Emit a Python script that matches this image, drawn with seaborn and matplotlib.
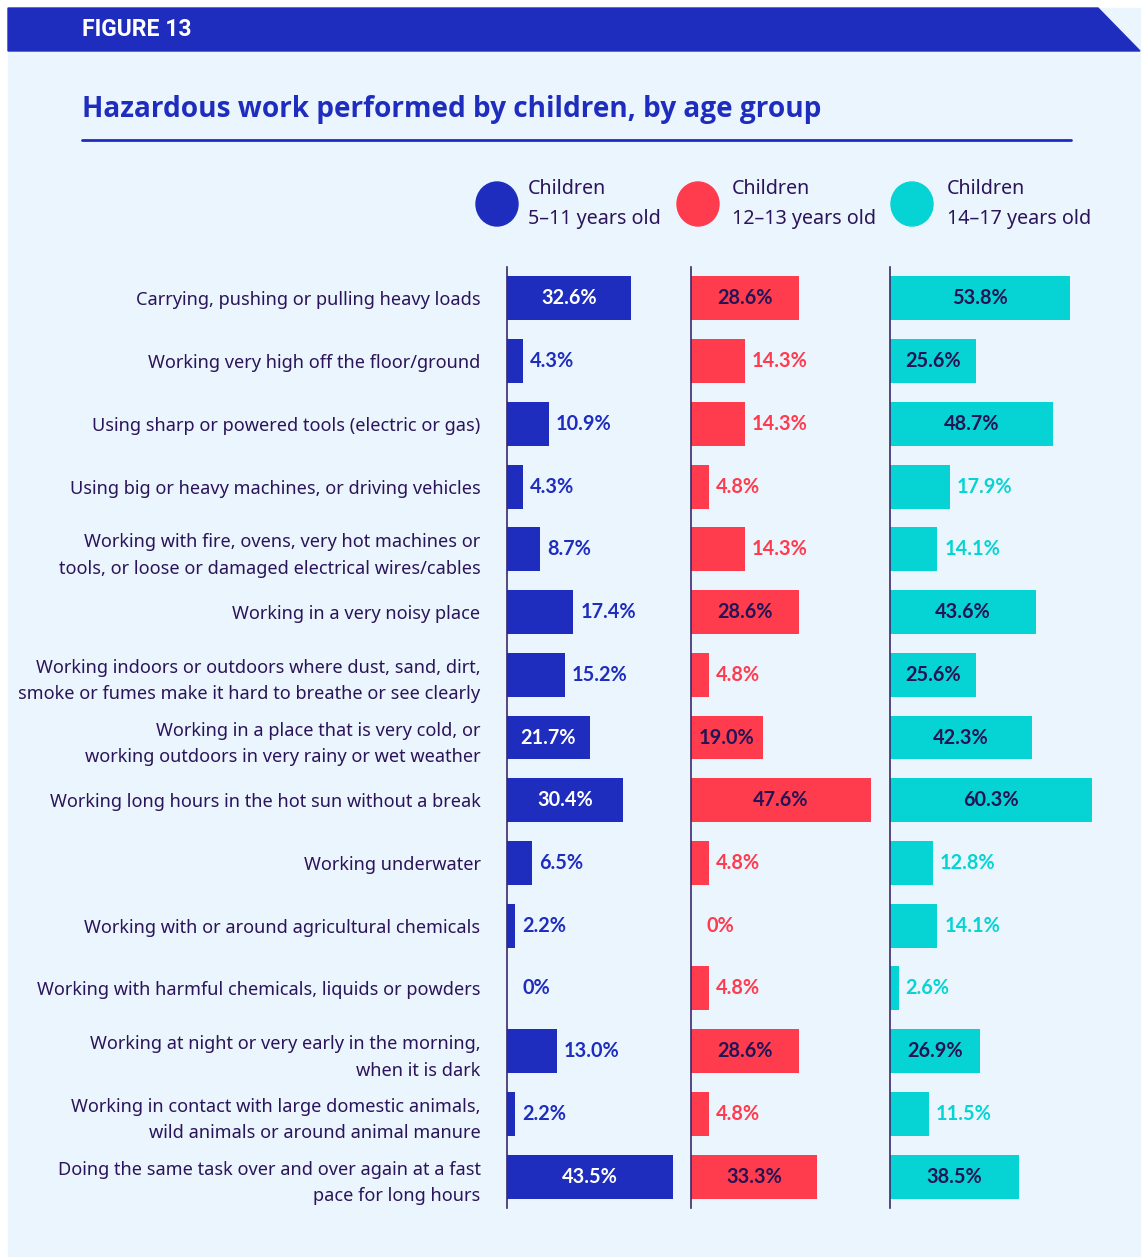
import numpy as np
import pandas as pd
import seaborn as sns
import matplotlib.pyplot as plt
from matplotlib.patches import Polygon, Rectangle, Ellipse
from matplotlib.lines import Line2D

# Daten
categories = [
    "Carrying, pushing or pulling heavy loads",
    "Working very high off the floor/ground",
    "Using sharp or powered tools (electric or gas)",
    "Using big or heavy machines, or driving vehicles",
    "Working with fire, ovens, very hot machines or\ntools, or loose or damaged electrical wires/cables",
    "Working in a very noisy place",
    "Working indoors or outdoors where dust, sand, dirt,\nsmoke or fumes make it hard to breathe or see clearly",
    "Working in a place that is very cold, or\nworking outdoors in very rainy or wet weather",
    "Working long hours in the hot sun without a break",
    "Working underwater",
    "Working with or around agricultural chemicals",
    "Working with harmful chemicals, liquids or powders",
    "Working at night or very early in the morning,\nwhen it is dark",
    "Working in contact with large domestic animals,\nwild animals or around animal manure",
    "Doing the same task over and over again at a fast\npace for long hours",
]
age_5_11 = [32.6, 4.3, 10.9, 4.3, 8.7, 17.4, 15.2, 21.7, 30.4, 6.5, 2.2, 0.0, 13.0, 2.2, 43.5]
age_12_13 = [28.6, 14.3, 14.3, 4.8, 14.3, 28.6, 4.8, 19.0, 47.6, 4.8, 0.0, 4.8, 28.6, 4.8, 33.3]
age_14_17 = [53.8, 25.6, 48.7, 17.9, 14.1, 43.6, 25.6, 42.3, 60.3, 12.8, 14.1, 2.6, 26.9, 11.5, 38.5]
legend_labels = ["Children\n5–11 years old", "Children\n12–13 years old", "Children\n14–17 years old"]

BLUE = "#1F2DBE"
RED = "#FF3B4E"
TEAL = "#06D3D3"
NAVY = "#231456"
TEXT = "#2B1459"
BG = "#EBF5FE"

W, H = 1142, 1258
sns.set_theme(style="white")
plt.rcParams['font.family'] = ['Noto Sans', 'DejaVu Sans']

fig = plt.figure(figsize=(W / 100, H / 100), dpi=100, facecolor="white")


def fx(x):
    return x / W


def fy(y):
    return 1 - y / H


# Hintergrund und Kopfzeile
fig.add_artist(Rectangle((fx(8), fy(1256)), fx(1132), 1248 / H, transform=fig.transFigure,
                         color=BG, zorder=0))
fig.add_artist(Polygon([(fx(8), fy(8)), (fx(1098), fy(8)), (fx(1140), fy(51)), (fx(8), fy(51))],
                       closed=True, transform=fig.transFigure, color=BLUE, zorder=1))
fig.text(fx(82), fy(30), "FIGURE 13", color="white", fontsize=16.5, fontweight="bold",
         family=["Roboto", "DejaVu Sans"], va="center", ha="left")
fig.text(fx(82), fy(109), "Hazardous work performed by children, by age group", color=BLUE,
         fontsize=20.2, fontweight="bold", family=["Open Sans", "DejaVu Sans"], va="center", ha="left")
fig.add_artist(Line2D([fx(82), fx(1071)], [fy(140), fy(140)], transform=fig.transFigure,
                      color=BLUE, lw=2))

# Legende
for cx, tx, col, lab in zip([497, 698, 912], [528, 732, 947], [BLUE, RED, TEAL], legend_labels):
    fig.add_artist(Ellipse((fx(cx), fy(204)), 42 / W, 44 / H, transform=fig.transFigure,
                           color=col, zorder=2))
    fig.text(fx(tx), fy(204), lab, color=TEXT, fontsize=14.2, va="center", ha="left",
             linespacing=1.62)

# Panels: (linker Rand px, Breite px, xlim)
panels = [
    (507, 173, 173 / 3.81, age_5_11, BLUE, "white"),
    (691, 189, 189 / 3.78, age_12_13, RED, NAVY),
    (890, 210, 210 / 3.35, age_14_17, TEAL, NAVY),
]
top, bottom = 267, 1208

for i, (left, width, xmax, vals, col, inside_col) in enumerate(panels):
    ax = fig.add_axes([fx(left), fy(bottom), width / W, (bottom - top) / H])
    ax.set_facecolor("none")
    df = pd.DataFrame({"cat": categories, "val": vals})
    sns.barplot(data=df, x="val", y="cat", ax=ax, color=col, saturation=1, width=0.7,
                orient="h", linewidth=0)
    ax.set_xlim(0, xmax)
    ax.set_ylim(14.5, -0.5)
    ax.set_xlabel("")
    ax.set_ylabel("")
    ax.set_xticks([])
    for s in ["top", "right", "bottom"]:
        ax.spines[s].set_visible(False)
    ax.spines["left"].set_color("#3B2A6B")
    ax.spines["left"].set_linewidth(1.2)
    ax.tick_params(axis="y", length=2, width=1, color=NAVY, direction="out")
    if i == 0:
        ax.tick_params(axis="y", pad=17, labelsize=13.1, labelcolor=TEXT)
        for t in ax.get_yticklabels():
            t.set_linespacing(1.6)
    else:
        ax.set_yticklabels([])

    for j, v in enumerate(vals):
        lab = "0%" if v == 0 else f"{v:.1f}%"
        if v >= 19:
            ax.text(v / 2, j, lab, color=inside_col, ha="center", va="center", fontsize=14.3,
                    fontweight="bold", family=["Lato", "DejaVu Sans"])
        else:
            off = 11 if v == 0 else 5
            ax.annotate(lab, (v, j), xytext=(off, 0), textcoords="offset points", color=col,
                        ha="left", va="center", fontsize=14.3, fontweight="bold",
                        family=["Lato", "DejaVu Sans"])

fig.savefig("out.png", dpi=100, facecolor="white")
